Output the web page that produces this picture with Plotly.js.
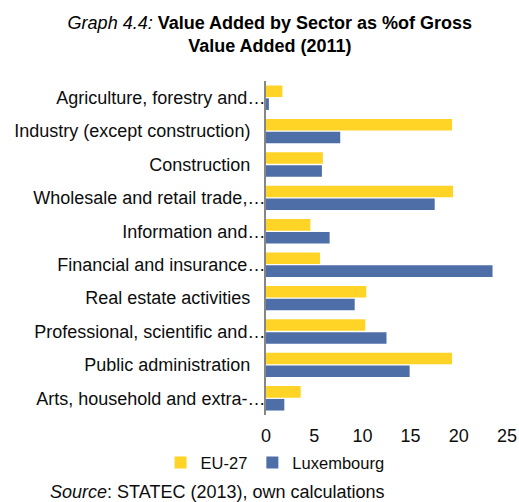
<!DOCTYPE html>
<html>
<head>
<meta charset="utf-8">
<script src="https://cdn.plot.ly/plotly-3.0.1.min.js"></script>
<style>html,body{margin:0;padding:0;background:#fff;}#chart{width:519px;height:502px;}</style>
</head>
<body>
<div id="chart"></div>
<script>
const categories = [
  "Agriculture, forestry and…",
  "Industry (except construction)",
  "Construction",
  "Wholesale and retail trade,…",
  "Information and…",
  "Financial and insurance…",
  "Real estate activities",
  "Professional, scientific and…",
  "Public administration",
  "Arts, household and extra-…"
];
const eu27 = [1.7, 19.3, 5.9, 19.4, 4.6, 5.6, 10.4, 10.3, 19.3, 3.6];
const luxembourg = [0.3, 7.7, 5.8, 17.5, 6.6, 23.5, 9.2, 12.5, 14.9, 1.9];
const xTicks = [0, 5, 10, 15, 20, 25];

const tickText = categories.map(c => c.endsWith("…") ? c : c + "\u00a0\u00a0\u00a0");

const FONT = "Liberation Sans, Arial, sans-serif";
const traces = [
  {type: "bar", orientation: "h", name: "EU-27", y: categories, x: eu27,
   marker: {color: "#FFD426"}, hoverinfo: "x"},
  {type: "bar", orientation: "h", name: "Luxembourg", y: categories, x: luxembourg,
   marker: {color: "#4E6EA8"}, hoverinfo: "x"}
];

const layout = {
  width: 519, height: 502,
  margin: {l: 266, r: 11.5, t: 81, b: 87, pad: 0},
  paper_bgcolor: "#fff", plot_bgcolor: "#fff",
  font: {family: FONT, size: 18, color: "#0d0d0d"},
  barmode: "group", bargap: 0.23, bargroupgap: 0.1,
  title: {
    text: "<i>Graph 4.4:</i> <b>Value Added by Sector as %of Gross</b><br><b>Value Added (2011)</b>",
    font: {family: FONT, size: 18, color: "#000"},
    xref: "container", x: 0.52, xanchor: "center",
    yref: "container", y: 0.943, yanchor: "top"
  },
  xaxis: {range: [0, 25], tickvals: xTicks, ticktext: xTicks.map(String),
          showgrid: false, zeroline: false, showline: false, ticks: "",
          ticklabelstandoff: 8, fixedrange: true},
  yaxis: {type: "category", autorange: "reversed", tickvals: categories, ticktext: tickText,
          showgrid: false, zeroline: false, showline: true, linecolor: "#868686", linewidth: 2,
          ticks: "", ticklabelstandoff: -5, fixedrange: true},
  legend: {orientation: "h", xref: "container", x: 0.53, xanchor: "center",
           yref: "container", y: 0.078, yanchor: "middle",
           font: {family: FONT, size: 16.5}, itemwidth: 30, traceorder: "normal"},
  annotations: [{
    text: "<i>Source</i>: STATEC (2013), own calculations",
    xref: "paper", yref: "paper", x: -0.903, y: -0.2305,
    xanchor: "left", yanchor: "middle", showarrow: false,
    font: {family: FONT, size: 18, color: "#0d0d0d"}
  }],
  showlegend: true
};

Plotly.newPlot("chart", traces, layout, {displayModeBar: false, staticPlot: true});
</script>
</body>
</html>
